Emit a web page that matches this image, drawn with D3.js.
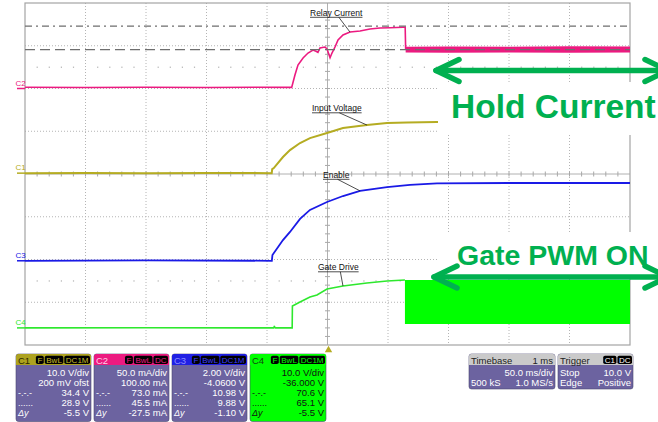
<!DOCTYPE html>
<html><head><meta charset="utf-8">
<script src="https://cdn.jsdelivr.net/npm/d3@7"></script>
<style>
html,body{margin:0;padding:0;background:#fff;}
svg{display:block;font-family:"Liberation Sans",Arial,sans-serif;}
</style></head><body>
<svg id="scope" width="658" height="422"></svg>
<script>
// ---- acquisition settings ----
const timeDomain = [-250, 250];            // ms, 50 ms/div, trigger at centre
const divDomain = [-4, 4];                 // vertical divisions
const channelIds = ["C1", "C2", "C3", "C4"];
const channelPerDiv = [10, 50, 2, 10];     // V/div, mA/div, V/div, V/div
const channelOffset = [0.2, 100, -4.06, -36];
const channelColors = ["#b5ac22", "#ec1a80", "#1a1ae6", "#2ee82e"];

// ---- traces: [time ms, value] ----
const c1Input = [[-250,0],[-200,0.05],[-150,0],[-100,0.05],[-46.1,0],[-45.7,0.96],[-44.4,1.19],[-36.8,3.77],[-31,5.4],
  [-22.7,7.04],[-14.5,8.2],[-0.4,9.38],[12.8,10.55],[32.6,11.25],[49.2,11.72],[65.7,11.84],[90.5,11.95],[250,12.0]];
const c2Relay = [[-250,1.4],[-200,1.1],[-150,1.5],[-100,1.2],[-60,1.5],[-29.6,1.3],[-26.9,15.8],[-24.4,27.5],[-20.2,35.7],
  [-16.1,41.5],[-12,45],[-9.5,43.5],[-7.9,42.2],[-6.2,47.4],[-2.1,48.5],[-0.4,46.2],[2.1,36],[3.7,41.5],[6.2,48.5],
  [8.7,56.7],[12.8,62.6],[18.6,66],[26.9,67.3],[35.1,69.6],[43.4,70.8],[51.7,71.1],[62.4,71.6],[64.2,71.6],[64.6,45]];
const c2Hold = [[64.6,42.0,48.8],[100,41.8,49.2],[150,42.0,48.9],[200,41.8,49.3],[250,42.0,49.0]]; // [t, min, max]
const c3Enable = [[-250,0],[-150,0.02],[-46,0],[-45.5,0.27],[-36.8,0.97],[-31,1.35],[-22.7,1.96],[-14.5,2.38],[-0.4,2.75],
  [12.8,3.03],[26.9,3.27],[49.2,3.45],[68.2,3.55],[90.5,3.62],[150,3.64],[250,3.64]];
const c4Gate = [[-250,0],[-150,0.05],[-44.5,0],[-44,0.3],[-43,0],[-29.2,0],[-29,5.12],[-22.7,6.06],[-14.5,7.23],[-8.7,7.7],
  [-0.4,9.1],[12.8,9.8],[32.6,10.5],[49.2,10.97],[64,11.2]];
const c4Pwm = [[64,0.91,11.2],[250,0.91,11.2]];       // PWM envelope [t, low, high]
const cursorLevelsC2 = [73.0, 45.5];                   // mA

// ---- annotation labels on traces ----
const traceLabels = ["Relay Current", "Input Voltage", "Enable", "Gate Drive"];

// ---- readouts ----
const c1Readout = [["","10.0 V/div"],["","200 mV ofst"],["-.-.-","34.4 V"],["......","28.9 V"],["Δy","-5.5 V"]];
const c2Readout = [["","50.0 mA/div"],["","100.00 mA"],["-.-.-","73.0 mA"],["......","45.5 mA"],["Δy","-27.5 mA"]];
const c3Readout = [["","2.00 V/div"],["","-4.0600 V"],["-.-.-","10.98 V"],["......","9.88 V"],["Δy","-1.10 V"]];
const c4Readout = [["","10.0 V/div"],["","-36.000 V"],["-.-.-","70.6 V"],["......","65.1 V"],["Δy","-5.5 V"]];
const c1Badges = ["F","BwL","DC1M"], c2Badges = ["F","BwL","DC"], c3Badges = ["F","BwL","DC1M"], c4Badges = ["F","BwL","DC1M"];
const timebaseRows = [["","50.0 ms/div"],["500 kS","1.0 MS/s"]];
const triggerRows = [["Stop","10.0 V"],["Edge","Positive"]];

// ---- scales ----
const svg = d3.select("#scope");
const plot = {left:25, right:630, top:3, bottom:345};
const x = d3.scaleLinear().domain(timeDomain).range([plot.left, plot.right]);
const yDiv = d3.scaleLinear().domain(divDomain).range([plot.bottom, plot.top]);
const yCh = (i, v) => yDiv((v + channelOffset[i]) / channelPerDiv[i]);

// ---- graticule ----
const grid = svg.append("g");
const majorT = d3.range(timeDomain[0] + 50, timeDomain[1], 50);
const majorD = d3.range(divDomain[0] + 1, divDomain[1], 1);
grid.selectAll("line.v").data(majorT.filter(t => t !== 0)).join("line")
  .attr("x1", d => x(d)).attr("x2", d => x(d)).attr("y1", plot.top).attr("y2", plot.bottom)
  .attr("stroke", "#b4b4b4").attr("stroke-dasharray", "1,2");
grid.selectAll("line.h").data(majorD.filter(d => d !== 0)).join("line")
  .attr("x1", plot.left).attr("x2", plot.right).attr("y1", d => yDiv(d)).attr("y2", d => yDiv(d))
  .attr("stroke", "#b4b4b4").attr("stroke-dasharray", "1,2");
// centre axes with minor ticks
grid.append("line").attr("x1", x(0)).attr("x2", x(0)).attr("y1", plot.top).attr("y2", plot.bottom).attr("stroke", "#b0b0b0");
grid.append("line").attr("x1", plot.left).attr("x2", plot.right).attr("y1", yDiv(0)).attr("y2", yDiv(0)).attr("stroke", "#b0b0b0");
grid.selectAll("line.tx").data(d3.range(timeDomain[0] + 10, timeDomain[1], 10)).join("line")
  .attr("x1", d => x(d)).attr("x2", d => x(d)).attr("y1", yDiv(0) - 2.5).attr("y2", yDiv(0) + 2.5).attr("stroke", "#a8a8a8");
grid.selectAll("line.ty").data(d3.range(divDomain[0] + 0.2, divDomain[1], 0.2)).join("line")
  .attr("y1", d => yDiv(d)).attr("y2", d => yDiv(d)).attr("x1", x(0) - 2.5).attr("x2", x(0) + 2.5).attr("stroke", "#a8a8a8");
// sparse dotted markers at ±2.5 div
[2.5, -2.5].forEach(lv => {
  grid.selectAll(null).data(d3.range(timeDomain[0] + 10, timeDomain[1], 10).filter(t => t % 50 !== 0)).join("rect")
    .attr("x", d => x(d) - 0.5).attr("y", yDiv(lv) - 0.5).attr("width", 1.2).attr("height", 1.2).attr("fill", "#b0b0b0");
});
grid.append("rect").attr("x", plot.left).attr("y", plot.top).attr("width", plot.right - plot.left)
  .attr("height", plot.bottom - plot.top).attr("fill", "none").attr("stroke", "#a4a4a4").attr("stroke-width", 1.2);

// ---- traces ----
const tr = svg.append("g");
const lineFor = i => d3.line().x(d => x(d[0])).y(d => yCh(i, d[1]));
const areaFor = i => d3.area().x(d => x(d[0])).y0(d => yCh(i, d[1])).y1(d => yCh(i, d[2]));
tr.append("path").datum(c1Input).attr("d", lineFor(0)).attr("fill", "none").attr("stroke", channelColors[0]).attr("stroke-width", 2);
tr.append("path").datum(c3Enable).attr("d", lineFor(2)).attr("fill", "none").attr("stroke", channelColors[2]).attr("stroke-width", 1.8);
tr.append("path").datum(c4Gate).attr("d", lineFor(3)).attr("fill", "none").attr("stroke", channelColors[3]).attr("stroke-width", 1.6);
tr.append("path").datum(c4Pwm).attr("d", areaFor(3)).attr("fill", "#00ff00");
tr.append("path").datum(c2Relay).attr("d", lineFor(1)).attr("fill", "none").attr("stroke", channelColors[1]).attr("stroke-width", 1.6);
tr.append("path").datum(c2Hold).attr("d", areaFor(1)).attr("fill", channelColors[1]);

// ---- horizontal cursors ----
const cursorDash = ["7,4,2,4", "10,5"];
svg.append("g").selectAll("line").data(cursorLevelsC2).join("line")
  .attr("x1", plot.left).attr("x2", plot.right).attr("y1", d => yCh(1, d)).attr("y2", d => yCh(1, d))
  .attr("stroke", "#6e6e6e").attr("stroke-width", 1.4).attr("stroke-dasharray", (d, i) => cursorDash[i]);

// ---- ground markers ----
const gm = svg.append("g");
channelIds.forEach((id, i) => {
  const gy = yCh(i, 0);
  gm.append("line").attr("x1", 17).attr("x2", plot.left).attr("y1", gy).attr("y2", gy)
    .attr("stroke", channelColors[i]).attr("stroke-width", 1.5);
  gm.append("text").attr("x", 15.5).attr("y", gy - 3).attr("font-size", 8).attr("fill", channelColors[i]).text(id);
});
// trigger position marker
svg.append("path").attr("d", d3.symbol(d3.symbolTriangle, 24)()).attr("transform", `translate(${x(0) + 1},${plot.bottom + 5})`)
  .attr("fill", "#b5ac22");

// ---- trace labels with leader lines ----
const labelSpecs = [
  {trace: c2Relay, ch: 1, idx: 21, tx: 310, ty: 15.5},
  {trace: c1Input, ch: 0, idx: 13, tx: 312, ty: 111},
  {trace: c3Enable, ch: 2, idx: 10, tx: 323, ty: 177.5},
  {trace: c4Gate, ch: 3, idx: 11, tx: 318, ty: 270}
];
const lab = svg.append("g");
labelSpecs.forEach((s, i) => {
  const t = lab.append("text").attr("x", s.tx).attr("y", s.ty).attr("font-size", 8.5).attr("fill", "#111").text(traceLabels[i]);
  const w = t.node().getComputedTextLength();
  lab.append("line").attr("x1", s.tx).attr("x2", s.tx + w).attr("y1", s.ty + 1.8).attr("y2", s.ty + 1.8)
    .attr("stroke", "#222").attr("stroke-width", 0.8);
  const p = s.trace[s.idx];
  lab.append("line").attr("x1", s.tx + w * 0.55).attr("y1", s.ty + 1.8).attr("x2", x(p[0])).attr("y2", yCh(s.ch, p[1]))
    .attr("stroke", "#222").attr("stroke-width", 0.8);
});

// ---- callouts ----
const green = "#00b050";
const call = svg.append("g");
function callout(boxY, boxH, arrowY, tipL, text, textY, fs, textX) {
  call.append("rect").attr("x", 438).attr("y", boxY).attr("width", 220).attr("height", boxH).attr("fill", "#fff");
  call.append("text").attr("x", textX).attr("y", textY).attr("font-size", fs).attr("font-weight", "bold")
    .attr("fill", green).text(text);
  const g = call.append("g").attr("stroke", green).attr("stroke-width", 5.5).attr("stroke-linecap", "round")
    .attr("stroke-linejoin", "round").attr("fill", "none");
  g.append("line").attr("x1", tipL).attr("x2", 668).attr("y1", arrowY).attr("y2", arrowY);
  g.append("polyline").attr("points", `${tipL + 23},${arrowY - 11} ${tipL},${arrowY} ${tipL + 23},${arrowY + 11}`);
  g.append("polyline").attr("points", `${668 - 23},${arrowY - 11} ${668},${arrowY} ${668 - 23},${arrowY + 11}`);
}
callout(82, 53, 70.5, 436, "Hold Current", 118, 33.5, 451);
callout(232, 44, 277, 434, "Gate PWM ON", 265, 28.5, 457);

// ---- readout boxes ----
const purple = "#6c63a0";
const info = svg.append("g");
function badges(list, right, y, fg) {
  let r = right;
  list.slice().reverse().forEach(b => {
    const t = info.append("text").attr("y", y + 7.3).attr("font-size", 8).attr("fill", fg).text(b);
    const w = t.node().getComputedTextLength() + 3;
    info.insert("rect", () => t.node()).attr("x", r - w).attr("y", y).attr("width", w).attr("height", 8.3)
      .attr("rx", 1.8).attr("fill", "#000");
    t.attr("x", r - w + 1.5);
    r -= w + 1;
  });
}
function chanBox(x0, w, head, headFg, badgeFg, body, bodyFg, id, blist, rows) {
  info.append("rect").attr("x", x0).attr("y", 354).attr("width", w).attr("height", 67.5).attr("rx", 2.5)
    .attr("fill", body).attr("stroke", "#4a4670").attr("stroke-width", 0.6);
  info.append("path").attr("d", `M${x0},365 V356.5 a2.5,2.5 0 0 1 2.5,-2.5 H${x0 + w - 2.5} a2.5,2.5 0 0 1 2.5,2.5 V365 Z`)
    .attr("fill", head);
  info.append("text").attr("x", x0 + 2).attr("y", 363.5).attr("font-size", 9.5).attr("fill", headFg).text(id);
  badges(blist, x0 + w - 1, 355.8, badgeFg);
  rows.forEach((r, i) => {
    const yb = 375.8 + i * 10;
    if (r[0]) info.append("text").attr("x", x0 + 2).attr("y", yb).attr("font-size", 9).attr("fill", bodyFg)
      .attr("font-style", r[0] === "Δy" ? "italic" : "normal").text(r[0]);
    info.append("text").attr("x", x0 + w - 2).attr("y", yb).attr("text-anchor", "end").attr("font-size", 9.5)
      .attr("fill", bodyFg).text(r[1]);
  });
}
chanBox(16, 75, "#ada21f", "#2e2a00", "#c8bc2a", purple, "#fff", "C1", c1Badges, c1Readout);
chanBox(94, 75, "#ec1a80", "#ffd0e6", "#ec1a80", purple, "#fff", "C2", c2Badges, c2Readout);
chanBox(172, 75, "#2020e4", "#8c8cff", "#3c3cff", purple, "#fff", "C3", c3Badges, c3Readout);
chanBox(250, 76, "#00ff00", "#114411", "#00ff00", "#00ff00", "#111", "C4", c4Badges, c4Readout);

function sysBox(x0, w, title, headRight, rows, badgeList) {
  info.append("rect").attr("x", x0).attr("y", 354).attr("width", w).attr("height", 35).attr("rx", 2.5)
    .attr("fill", purple).attr("stroke", "#4a4670").attr("stroke-width", 0.6);
  info.append("path").attr("d", `M${x0},365 V356.5 a2.5,2.5 0 0 1 2.5,-2.5 H${x0 + w - 2.5} a2.5,2.5 0 0 1 2.5,2.5 V365 Z`)
    .attr("fill", "#cacaca");
  info.append("text").attr("x", x0 + 2).attr("y", 363.5).attr("font-size", 9.5).attr("fill", "#222").text(title);
  if (headRight) info.append("text").attr("x", x0 + w - 2).attr("y", 363.5).attr("text-anchor", "end")
    .attr("font-size", 9.5).attr("fill", "#222").text(headRight);
  if (badgeList) badges(badgeList, x0 + w - 1, 355.8, "#fff");
  rows.forEach((r, i) => {
    const yb = 375.8 + i * 10;
    if (r[0]) info.append("text").attr("x", x0 + 2).attr("y", yb).attr("font-size", 9.5).attr("fill", "#fff").text(r[0]);
    info.append("text").attr("x", x0 + w - 2).attr("y", yb).attr("text-anchor", "end").attr("font-size", 9.5)
      .attr("fill", "#fff").text(r[1]);
  });
}
sysBox(469, 86, "Timebase", "1 ms", timebaseRows, null);
sysBox(558, 75, "Trigger", null, triggerRows, ["C1", "DC"]);
</script>
</body></html>
